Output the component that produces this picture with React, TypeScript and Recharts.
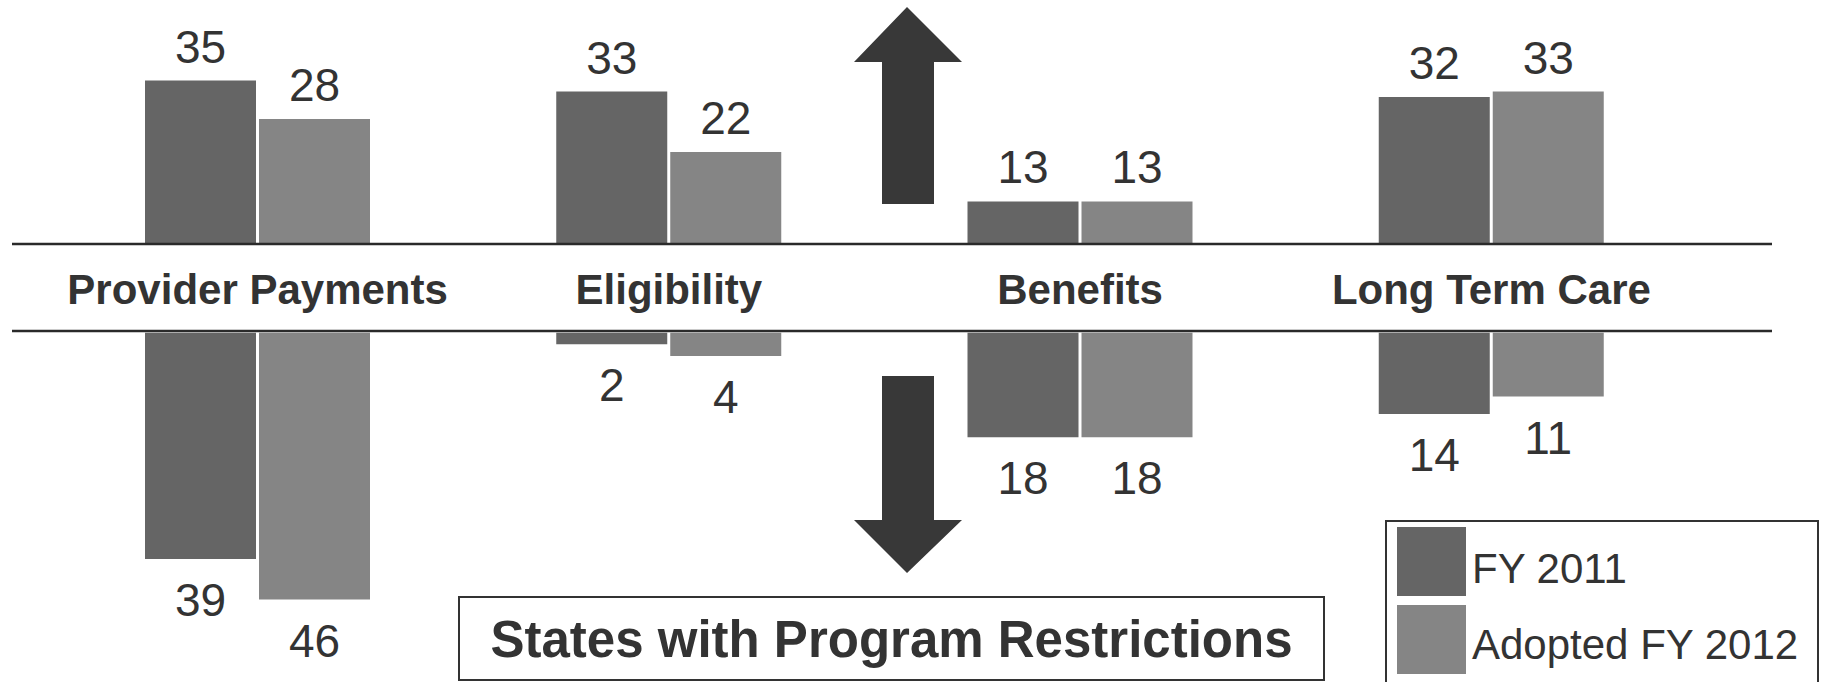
import { BarChart, Bar, XAxis, YAxis, LabelList } from 'recharts';

const FONT = '"Liberation Sans", Arial, Helvetica, sans-serif';
const INK = '#333333';

// program areas along the shared axis
const categories = ['Provider Payments', 'Eligibility', 'Benefits', 'Long Term Care'];

// number of states expanding each area (upper half)
const expansions2011 = [35, 33, 13, 32];
const expansions2012 = [28, 22, 13, 33];

// number of states restricting each area (lower half)
const restrictions2011 = [39, 2, 18, 14];
const restrictions2012 = [46, 4, 18, 11];

const seriesNames = ['FY 2011', 'Adopted FY 2012'];
const seriesColors = ['#656565', '#858585'];

const upData = categories.map((name, i) => ({
  name,
  fy2011: expansions2011[i],
  fy2012: expansions2012[i],
}));

const downData = categories.map((name, i) => ({
  name,
  fy2011: restrictions2011[i],
  fy2012: restrictions2012[i],
}));

const CHART_MARGIN_LEFT = 12;
const CHART_MARGIN_RIGHT = 49;
const AXIS_PADDING = { left: 40, right: 75 };
const BAR_SIZE = 111;

function rectOf(props: any) {
  const vb = props.viewBox ?? props;
  const x = Number(vb.x);
  const y = Number(vb.y);
  const width = Number(vb.width);
  const height = Number(vb.height);
  return { x, y, width, height };
}

const UpLabel = (props: any) => {
  const { x, y, width, height } = rectOf(props);
  const top = Math.min(y, y + height);
  return (
    <text x={x + width / 2} y={top - 18} textAnchor="middle" fontSize={46} fontFamily={FONT} fill={INK}>
      {props.value}
    </text>
  );
};

const DownLabel = (props: any) => {
  const { x, y, width, height } = rectOf(props);
  const bottom = Math.max(y, y + height);
  return (
    <text x={x + width / 2} y={bottom + 57} textAnchor="middle" fontSize={46} fontFamily={FONT} fill={INK}>
      {props.value}
    </text>
  );
};

const CategoryTick = (props: any) => {
  const { x, y, payload } = props;
  return (
    <text x={x} y={y + 60} textAnchor="middle" fontSize={42} fontWeight="bold" fontFamily={FONT} fill={INK}>
      {payload.value}
    </text>
  );
};

function Arrows() {
  return (
    <>
      <polygon points="907,7 962,62 934,62 934,204 882,204 882,62 854,62" fill="#383838" />
      <polygon points="882,376 934,376 934,520 962,520 907,573 854,520 882,520" fill="#383838" />
    </>
  );
}

function TitleBox() {
  return (
    <>
      <rect x={459} y={597} width={865} height={83} fill="#fff" stroke={INK} strokeWidth={2} />
      <text x={891.5} y={657} textAnchor="middle" fontSize={51} fontWeight="bold" fontFamily={FONT} fill={INK}>
        States with Program Restrictions
      </text>
    </>
  );
}

function LegendBox() {
  return (
    <>
      <rect x={1386} y={521} width={432} height={200} fill="#fff" stroke={INK} strokeWidth={2} />
      {seriesNames.map((name, i) => (
        <g key={name}>
          <rect x={1397} y={527 + i * 78} width={69} height={69} fill={seriesColors[i]} />
          <text x={1472} y={583 + i * 76} fontSize={42} fontFamily={FONT} fill={INK}>
            {name}
          </text>
        </g>
      ))}
    </>
  );
}

export default function App() {
  return (
    <div
      style={{
        position: 'absolute',
        left: 0,
        top: 0,
        width: 1821,
        height: 682,
        background: '#ffffff',
        overflow: 'hidden',
        fontFamily: FONT,
      }}
    >
      {/* expansions: bars rise from the upper rule */}
      <div style={{ position: 'absolute', left: 0, top: 0 }}>
        <BarChart
          width={1821}
          height={330}
          data={upData}
          barGap={3}
          margin={{ top: 0, right: CHART_MARGIN_RIGHT, left: CHART_MARGIN_LEFT, bottom: 0 }}
        >
          <XAxis
            dataKey="name"
            height={86}
            padding={AXIS_PADDING}
            interval={0}
            tickLine={false}
            tickSize={0}
            tickMargin={0}
            axisLine={{ stroke: '#2a2a2a', strokeWidth: 2.5 }}
            tick={<CategoryTick />}
          />
          <YAxis hide type="number" domain={[5.27, 49.64]} allowDataOverflow />
          <Bar dataKey="fy2011" name={seriesNames[0]} fill={seriesColors[0]} barSize={BAR_SIZE} isAnimationActive={false}>
            <LabelList dataKey="fy2011" content={<UpLabel />} />
          </Bar>
          <Bar dataKey="fy2012" name={seriesNames[1]} fill={seriesColors[1]} barSize={BAR_SIZE} isAnimationActive={false}>
            <LabelList dataKey="fy2012" content={<UpLabel />} />
          </Bar>
        </BarChart>
      </div>

      {/* restrictions: bars hang from the lower rule */}
      <div style={{ position: 'absolute', left: 0, top: 300 }}>
        <BarChart
          width={1821}
          height={382}
          data={downData}
          barGap={3}
          margin={{ top: 0, right: CHART_MARGIN_RIGHT, left: CHART_MARGIN_LEFT, bottom: 0 }}
        >
          <XAxis
            dataKey="name"
            orientation="top"
            height={31}
            padding={AXIS_PADDING}
            tick={false}
            tickLine={false}
            axisLine={{ stroke: '#2a2a2a', strokeWidth: 2.5 }}
          />
          <YAxis hide type="number" reversed domain={[-0.3, 60.2]} allowDataOverflow />
          <Bar dataKey="fy2011" name={seriesNames[0]} fill={seriesColors[0]} barSize={BAR_SIZE} isAnimationActive={false}>
            <LabelList dataKey="fy2011" content={<DownLabel />} />
          </Bar>
          <Bar dataKey="fy2012" name={seriesNames[1]} fill={seriesColors[1]} barSize={BAR_SIZE} isAnimationActive={false}>
            <LabelList dataKey="fy2012" content={<DownLabel />} />
          </Bar>
        </BarChart>
      </div>

      <svg
        width={1821}
        height={682}
        style={{ position: 'absolute', left: 0, top: 0, pointerEvents: 'none' }}
      >
        <Arrows />
        <TitleBox />
        <LegendBox />
      </svg>
    </div>
  );
}
